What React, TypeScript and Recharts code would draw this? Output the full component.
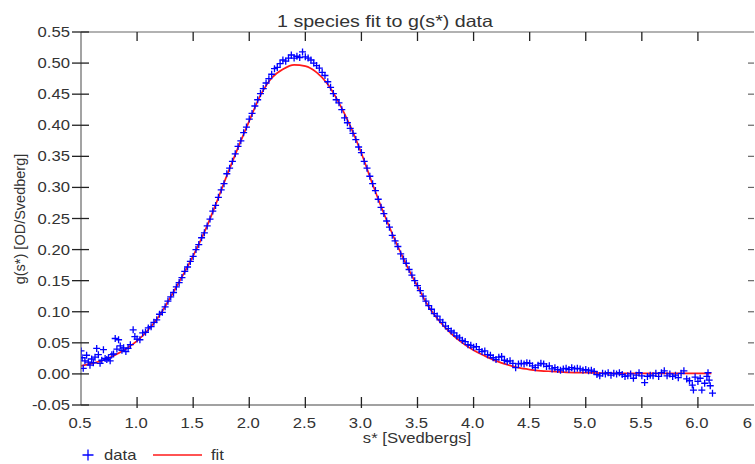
import React from 'react';
import { ComposedChart, Scatter, Line, XAxis, YAxis } from 'recharts';

// measured data points: [s*, g(s*)]
const dataPoints: [number, number][] = [
  [0.5, 0.037], [0.51, 0.026], [0.52, 0.009], [0.535, 0.021], [0.55, 0.03], [0.565, 0.019],
  [0.58, 0.014], [0.595, 0.024], [0.61, 0.018], [0.625, 0.027], [0.64, 0.041], [0.655, 0.031],
  [0.67, 0.017], [0.685, 0.022], [0.7, 0.039], [0.715, 0.025], [0.73, 0.023], [0.745, 0.026],
  [0.76, 0.021], [0.775, 0.031], [0.79, 0.032], [0.805, 0.057], [0.82, 0.04], [0.835, 0.055],
  [0.85, 0.045], [0.865, 0.038], [0.88, 0.042], [0.9, 0.036], [0.92, 0.041], [0.94, 0.047],
  [0.965, 0.071], [0.98, 0.06], [1.0, 0.056], [1.025, 0.055], [1.05, 0.066], [1.075, 0.067],
  [1.1, 0.074], [1.125, 0.076], [1.15, 0.083], [1.175, 0.087], [1.2, 0.096], [1.225, 0.099],
  [1.25, 0.108], [1.275, 0.117], [1.3, 0.124], [1.325, 0.131], [1.35, 0.14], [1.375, 0.147],
  [1.4, 0.155], [1.425, 0.165], [1.45, 0.172], [1.475, 0.181], [1.5, 0.189], [1.525, 0.2],
  [1.55, 0.208], [1.575, 0.219], [1.6, 0.227], [1.625, 0.238], [1.65, 0.249], [1.675, 0.262],
  [1.7, 0.271], [1.725, 0.284], [1.75, 0.296], [1.775, 0.306], [1.8, 0.322], [1.825, 0.331],
  [1.85, 0.342], [1.875, 0.354], [1.9, 0.366], [1.925, 0.375], [1.95, 0.388], [1.975, 0.397],
  [2.0, 0.41], [2.025, 0.419], [2.05, 0.431], [2.075, 0.441], [2.1, 0.451], [2.125, 0.459],
  [2.15, 0.468], [2.175, 0.475], [2.2, 0.482], [2.225, 0.491], [2.25, 0.493], [2.275, 0.499],
  [2.3, 0.505], [2.325, 0.503], [2.35, 0.508], [2.375, 0.513], [2.4, 0.508], [2.425, 0.511],
  [2.45, 0.509], [2.475, 0.518], [2.5, 0.51], [2.525, 0.508], [2.55, 0.505], [2.575, 0.5],
  [2.6, 0.496], [2.625, 0.492], [2.65, 0.485], [2.675, 0.48], [2.7, 0.47], [2.725, 0.461],
  [2.75, 0.451], [2.775, 0.441], [2.8, 0.436], [2.825, 0.425], [2.85, 0.412], [2.875, 0.404],
  [2.9, 0.395], [2.925, 0.387], [2.95, 0.377], [2.975, 0.365], [3.0, 0.356], [3.025, 0.342],
  [3.05, 0.331], [3.075, 0.318], [3.1, 0.306], [3.125, 0.295], [3.15, 0.281], [3.175, 0.268],
  [3.2, 0.258], [3.225, 0.246], [3.25, 0.236], [3.275, 0.223], [3.3, 0.214], [3.325, 0.205],
  [3.35, 0.193], [3.375, 0.185], [3.4, 0.178], [3.425, 0.168], [3.45, 0.159], [3.475, 0.15],
  [3.5, 0.142], [3.525, 0.134], [3.55, 0.125], [3.575, 0.117], [3.6, 0.11], [3.625, 0.104],
  [3.65, 0.097], [3.675, 0.093], [3.7, 0.087], [3.725, 0.083], [3.75, 0.077], [3.775, 0.073],
  [3.8, 0.069], [3.825, 0.066], [3.85, 0.061], [3.875, 0.058], [3.9, 0.054], [3.925, 0.052],
  [3.95, 0.047], [3.975, 0.046], [4.0, 0.043], [4.025, 0.044], [4.05, 0.039], [4.075, 0.036],
  [4.1, 0.037], [4.125, 0.031], [4.15, 0.03], [4.175, 0.026], [4.2, 0.023], [4.225, 0.027],
  [4.25, 0.028], [4.275, 0.022], [4.3, 0.02], [4.325, 0.021], [4.35, 0.017], [4.375, 0.01],
  [4.4, 0.016], [4.425, 0.017], [4.45, 0.016], [4.475, 0.018], [4.5, 0.017], [4.525, 0.013],
  [4.55, 0.01], [4.575, 0.014], [4.6, 0.017], [4.625, 0.016], [4.65, 0.012], [4.675, 0.013],
  [4.7, 0.008], [4.725, 0.01], [4.75, 0.007], [4.775, 0.006], [4.8, 0.008], [4.825, 0.009],
  [4.85, 0.007], [4.875, 0.01], [4.9, 0.008], [4.925, 0.009], [4.95, 0.008], [4.975, 0.006],
  [5.0, 0.007], [5.025, 0.005], [5.05, 0.006], [5.075, 0.004], [5.1, -0.001], [5.125, -0.003],
  [5.15, 0.001], [5.175, 0.0], [5.2, 0.002], [5.225, -0.002], [5.25, 0.001], [5.275, 0.0],
  [5.3, 0.002], [5.325, -0.001], [5.35, -0.004], [5.375, -0.003], [5.4, 0.0], [5.425, -0.007],
  [5.45, -0.002], [5.475, 0.002], [5.5, -0.003], [5.525, -0.014], [5.55, -0.004], [5.575, -0.002],
  [5.6, -0.003], [5.625, 0.001], [5.65, -0.004], [5.675, 0.002], [5.7, 0.005], [5.725, -0.003],
  [5.75, 0.0], [5.775, -0.004], [5.8, -0.002], [5.825, -0.006], [5.85, 0.001], [5.875, 0.005],
  [5.9, -0.008], [5.925, -0.011], [5.95, -0.018], [5.96, -0.026], [5.975, -0.005], [6.0, -0.012],
  [6.02, -0.007], [6.035, -0.026], [6.06, -0.015], [6.08, -0.004], [6.09, 0.002], [6.1, -0.01],
  [6.11, -0.019], [6.13, -0.031],
];

// fitted curve: [s*, g(s*)]
const fitPoints: [number, number][] = [
  [0.5, 0.013], [0.6, 0.017], [0.7, 0.022], [0.8, 0.03], [0.9, 0.04], [1.0, 0.053],
  [1.1, 0.071], [1.2, 0.094], [1.3, 0.124], [1.4, 0.156], [1.5, 0.19], [1.6, 0.228],
  [1.7, 0.272], [1.8, 0.319], [1.9, 0.364], [2.0, 0.407], [2.1, 0.448], [2.2, 0.476],
  [2.3, 0.49], [2.4, 0.497], [2.5, 0.495], [2.6, 0.485], [2.7, 0.466], [2.8, 0.436],
  [2.9, 0.399], [3.0, 0.355], [3.1, 0.305], [3.2, 0.258], [3.3, 0.215], [3.4, 0.176],
  [3.5, 0.141], [3.6, 0.108], [3.7, 0.084], [3.8, 0.065], [3.9, 0.05], [4.0, 0.038],
  [4.1, 0.029], [4.2, 0.021], [4.3, 0.015], [4.4, 0.01], [4.5, 0.007], [4.6, 0.005],
  [4.7, 0.004], [4.8, 0.003], [5.0, 0.002], [5.3, 0.001], [5.7, 0.001], [6.12, 0.001],
];

const xTicks = [0.5, 1.0, 1.5, 2.0, 2.5, 3.0, 3.5, 4.0, 4.5, 5.0, 5.5, 6.0, 6.5];
const xTickLabels = ['0.5', '1.0', '1.5', '2.0', '2.5', '3.0', '3.5', '4.0', '4.5', '5.0', '5.5', '6.0', '6'];
const yTicks = [-0.05, 0.0, 0.05, 0.1, 0.15, 0.2, 0.25, 0.3, 0.35, 0.4, 0.45, 0.5, 0.55];

const titleText = '1 species fit to g(s*) data';
const xLabelText = 's* [Svedbergs]';
const yLabelText = 'g(s*) [OD/Svedberg]';
const legendNames = ['data', 'fit'];

const dataSeries = dataPoints.map(([s, g]) => ({ s, g }));
const fitSeries = fitPoints.map(([s, g]) => ({ s, g }));

const W = 755;
const H = 464;
const FONT = '"Liberation Sans", Arial, sans-serif';
const TEXT = '#333333';
const TICK = '#222222';
const AXIS = '#666666';
const BLUE = '#0000ff';
const RED = '#ff1a1a';
const SX = 1.19;

function SText(props: any) {
  const { x, y, anchor = 'start', size = 14, children } = props;
  return (
    <text
      transform={`translate(${x},${y}) scale(${SX},1)`}
      textAnchor={anchor}
      fontSize={size}
      fontFamily={FONT}
      fill={TEXT}
    >
      {children}
    </text>
  );
}

const BottomTick = (props: any) => {
  const { x, y, payload, index } = props;
  const v = payload.value as number;
  const last = v > 6.4;
  const label = xTickLabels[xTicks.indexOf(v)] ?? v.toFixed(1);
  return (
    <g>
      {v > 0.6 && !last && (
        <line x1={x} x2={x} y1={y - 8} y2={y + 3} stroke={TICK} strokeWidth={1.3} />
      )}
      <SText x={last ? x - 2 : x - 1} y={y + 23} anchor={last ? 'end' : 'middle'} size={14}>
        {label}
      </SText>
    </g>
  );
};

const TopTick = (props: any) => {
  const { x, y, payload } = props;
  const v = payload.value as number;
  if (v < 0.6 || v > 6.4) return <g />;
  return <line x1={x} x2={x} y1={y} y2={y + 9} stroke={TICK} strokeWidth={1.3} />;
};

const LeftTick = (props: any) => {
  const { x, y, payload } = props;
  const v = payload.value as number;
  return (
    <g>
      <line x1={x - 9} x2={x + 8} y1={y} y2={y} stroke={TICK} strokeWidth={1.3} />
      <SText x={x - 11} y={y + 5} anchor="end" size={14}>
        {v.toFixed(2)}
      </SText>
    </g>
  );
};

const RightTick = (props: any) => {
  const { x, y, payload } = props;
  const v = payload.value as number;
  if (v > 0.54 || v < -0.04) return <g />;
  return <line x1={x - 6} x2={x} y1={y} y2={y} stroke={AXIS} strokeWidth={1.2} />;
};

const PlusShape = (props: any) => {
  const { cx, cy } = props;
  if (cx == null || cy == null) return <g />;
  return (
    <path
      d={`M${cx - 3.5},${cy}H${cx + 3.5}M${cx},${cy - 3.5}V${cy + 3.5}`}
      stroke={BLUE}
      strokeWidth={1.3}
      fill="none"
    />
  );
};

export default function App() {
  return (
    <div
      style={{
        position: 'absolute',
        left: 0,
        top: 0,
        width: W,
        height: H,
        overflow: 'hidden',
        background: '#ffffff',
      }}
    >
      <ComposedChart width={W} height={H} margin={{ top: 31, right: 0, bottom: 0, left: 0 }}>
        <XAxis
          xAxisId="bottom"
          dataKey="s"
          type="number"
          domain={[0.5, 6.5]}
          allowDataOverflow
          ticks={xTicks}
          interval={0}
          height={59}
          tickSize={0}
          tickMargin={0}
          tickLine={false}
          axisLine={{ stroke: '#444444', strokeWidth: 1.2 }}
          tick={<BottomTick />}
        />
        <XAxis
          xAxisId="top"
          orientation="top"
          dataKey="s"
          type="number"
          domain={[0.5, 6.5]}
          allowDataOverflow
          ticks={xTicks}
          interval={0}
          height={1}
          tickSize={0}
          tickMargin={0}
          tickLine={false}
          axisLine={{ stroke: AXIS, strokeWidth: 1.2 }}
          tick={<TopTick />}
        />
        <YAxis
          yAxisId="left"
          type="number"
          domain={[-0.05, 0.55]}
          allowDataOverflow
          ticks={yTicks}
          interval={0}
          width={81}
          tickSize={0}
          tickMargin={0}
          tickLine={false}
          axisLine={{ stroke: AXIS, strokeWidth: 1.2 }}
          tick={<LeftTick />}
        />
        <YAxis
          yAxisId="right"
          orientation="right"
          type="number"
          domain={[-0.05, 0.55]}
          allowDataOverflow
          ticks={yTicks}
          interval={0}
          width={1}
          tickSize={0}
          tickMargin={0}
          tickLine={false}
          axisLine={false}
          tick={<RightTick />}
        />
        <Scatter
          name={legendNames[0]}
          data={dataSeries}
          dataKey="g"
          xAxisId="bottom"
          yAxisId="left"
          shape={<PlusShape />}
          isAnimationActive={false}
        />
        <Line
          name={legendNames[1]}
          data={fitSeries}
          dataKey="g"
          xAxisId="bottom"
          yAxisId="left"
          type="monotone"
          stroke={RED}
          strokeWidth={1.7}
          dot={false}
          activeDot={false}
          isAnimationActive={false}
        />
      </ComposedChart>
      <svg
        width={W}
        height={H}
        style={{ position: 'absolute', left: 0, top: 0, pointerEvents: 'none' }}
      >
        <SText x={385} y={27} anchor="middle" size={16.5}>
          {titleText}
        </SText>
        <SText x={417} y={443} anchor="middle" size={14}>
          {xLabelText}
        </SText>
        <text
          transform="translate(25,219) rotate(-90)"
          textAnchor="middle"
          fontSize={14.5}
          fontFamily={FONT}
          fill={TEXT}
        >
          {yLabelText}
        </text>
        <path d="M82.5,455H93.5M88,449.5V460.5" stroke={BLUE} strokeWidth={1.3} fill="none" />
        <SText x={104} y={460} size={14}>
          {legendNames[0]}
        </SText>
        <line x1={153} x2={202} y1={455} y2={455} stroke={RED} strokeWidth={1.7} />
        <SText x={211} y={460} size={14}>
          {legendNames[1]}
        </SText>
      </svg>
    </div>
  );
}
